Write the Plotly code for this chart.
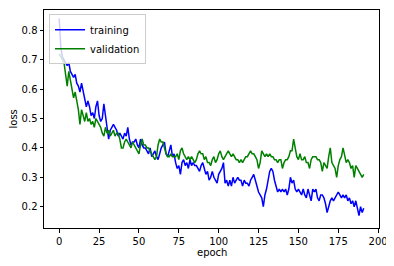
import plotly.graph_objects as go

epochs = list(range(192))
training = [
    0.84, 0.74, 0.71, 0.70, 0.69, 0.68, 0.69, 0.66, 0.65, 0.64,
    0.65, 0.62, 0.61, 0.59, 0.62, 0.59, 0.56, 0.54, 0.56, 0.54,
    0.51, 0.52, 0.50, 0.54, 0.56, 0.51, 0.49, 0.50, 0.55, 0.50,
    0.47, 0.43, 0.46, 0.47, 0.48, 0.47, 0.46, 0.44, 0.45, 0.44,
    0.43, 0.45, 0.44, 0.47, 0.43, 0.41, 0.42, 0.42, 0.43, 0.41,
    0.40, 0.43, 0.41, 0.40, 0.40, 0.39, 0.38, 0.40, 0.37, 0.38,
    0.39, 0.37, 0.36, 0.38, 0.40, 0.41, 0.42, 0.38, 0.37, 0.39,
    0.41, 0.37, 0.38, 0.35, 0.33, 0.34, 0.31, 0.35, 0.36, 0.34,
    0.35, 0.33, 0.36, 0.34, 0.35, 0.34, 0.34, 0.33, 0.32, 0.34,
    0.35, 0.33, 0.31, 0.32, 0.29, 0.30, 0.32, 0.30, 0.29, 0.28,
    0.31, 0.32, 0.33, 0.35, 0.28, 0.29, 0.27, 0.29, 0.27, 0.30,
    0.28, 0.29, 0.30, 0.29, 0.29, 0.27, 0.29, 0.28, 0.28, 0.27,
    0.29, 0.30, 0.31, 0.29, 0.27, 0.25, 0.24, 0.23, 0.20, 0.24,
    0.26, 0.29, 0.32, 0.33, 0.32, 0.29, 0.27, 0.25, 0.26, 0.25,
    0.26, 0.25, 0.26, 0.24, 0.26, 0.30, 0.28, 0.29, 0.26, 0.25,
    0.26, 0.25, 0.24, 0.26, 0.24, 0.23, 0.26, 0.24, 0.22, 0.26,
    0.25, 0.26, 0.23, 0.22, 0.24, 0.24, 0.23, 0.21, 0.18, 0.20,
    0.22, 0.23, 0.22, 0.23, 0.24, 0.25, 0.24, 0.23, 0.24, 0.23,
    0.24, 0.22, 0.23, 0.21, 0.22, 0.20, 0.22, 0.19, 0.17, 0.20,
    0.18, 0.195,
]
validation = [
    0.72, 0.71, 0.70, 0.69, 0.65, 0.61, 0.66, 0.63, 0.60, 0.57,
    0.59, 0.56, 0.53, 0.48, 0.53, 0.51, 0.49, 0.52, 0.49, 0.50,
    0.48, 0.49, 0.47, 0.50, 0.49, 0.48, 0.47, 0.45, 0.44, 0.47,
    0.45, 0.46, 0.44, 0.45, 0.46, 0.44, 0.45, 0.45, 0.43, 0.40,
    0.40, 0.42, 0.43, 0.42, 0.41, 0.40, 0.42, 0.41, 0.40, 0.39,
    0.38, 0.41, 0.43, 0.41, 0.41, 0.40, 0.40, 0.39, 0.38, 0.37,
    0.36, 0.37, 0.41, 0.43, 0.42, 0.42, 0.40, 0.38, 0.37, 0.37,
    0.38, 0.37, 0.37, 0.37, 0.38, 0.36, 0.39, 0.40, 0.38, 0.37,
    0.36, 0.37, 0.36, 0.37, 0.36, 0.35, 0.36, 0.38, 0.39, 0.38,
    0.38, 0.36, 0.37, 0.35, 0.35, 0.34, 0.36, 0.37, 0.35, 0.36,
    0.38, 0.39, 0.37, 0.36, 0.37, 0.38, 0.39, 0.38, 0.37, 0.38,
    0.37, 0.36, 0.36, 0.35, 0.36, 0.35, 0.36, 0.37, 0.37, 0.38,
    0.39, 0.38, 0.38, 0.37, 0.36, 0.33, 0.35, 0.39, 0.38, 0.37,
    0.38, 0.37, 0.38, 0.37, 0.37, 0.36, 0.36, 0.35, 0.36, 0.36,
    0.33, 0.35, 0.36, 0.36, 0.37, 0.39, 0.39, 0.43, 0.40, 0.37,
    0.36, 0.38, 0.36, 0.36, 0.37, 0.35, 0.35, 0.33, 0.36, 0.37,
    0.37, 0.37, 0.36, 0.36, 0.35, 0.32, 0.35, 0.34, 0.33, 0.37,
    0.40, 0.35, 0.34, 0.33, 0.30, 0.34, 0.36, 0.37, 0.40, 0.37,
    0.35, 0.36, 0.35, 0.33, 0.34, 0.30, 0.34, 0.33, 0.32, 0.31,
    0.30, 0.31,
]
x_ticks = [0, 25, 50, 75, 100, 125, 150, 175, 200]
y_ticks = [0.2, 0.3, 0.4, 0.5, 0.6, 0.7, 0.8]

fig = go.Figure()
fig.add_trace(go.Scatter(x=epochs, y=training, mode="lines", name="training",
                         line=dict(color="#0000ff", width=1.5)))
fig.add_trace(go.Scatter(x=epochs, y=validation, mode="lines", name="validation",
                         line=dict(color="#008000", width=1.5)))

axis_common = dict(showline=True, linecolor="black", linewidth=1, mirror=True,
                   ticks="outside", ticklen=3.5, tickcolor="black", tickwidth=1,
                   showgrid=False, zeroline=False, automargin=False,
                   tickfont=dict(family="DejaVu Sans", size=10, color="black"))
fig.update_layout(
    width=386, height=258,
    margin=dict(l=36, r=15, t=2, b=38),
    paper_bgcolor="white", plot_bgcolor="white",
    font=dict(family="DejaVu Sans", size=10, color="black"),
    xaxis=dict(range=[-9.55, 200.55], tickvals=x_ticks, **axis_common),
    yaxis=dict(range=[0.1275, 0.869], tickvals=y_ticks, **axis_common),
    legend=dict(x=0.015, y=0.98, xanchor="left", yanchor="top",
                bgcolor="rgba(255,255,255,0.8)", bordercolor="#cccccc", borderwidth=1,
                font=dict(size=10), tracegroupgap=0, itemwidth=30),
    showlegend=True,
    annotations=[
        dict(text="epoch", xref="paper", yref="paper", x=0.5, y=0,
             xanchor="center", yanchor="top", yshift=-17, showarrow=False,
             font=dict(size=10)),
        dict(text="loss", xref="paper", yref="paper", x=0, y=0.5,
             xanchor="right", yanchor="middle", xshift=-24, textangle=-90,
             showarrow=False, font=dict(size=10)),
    ],
)
fig.write_html("out.html")
